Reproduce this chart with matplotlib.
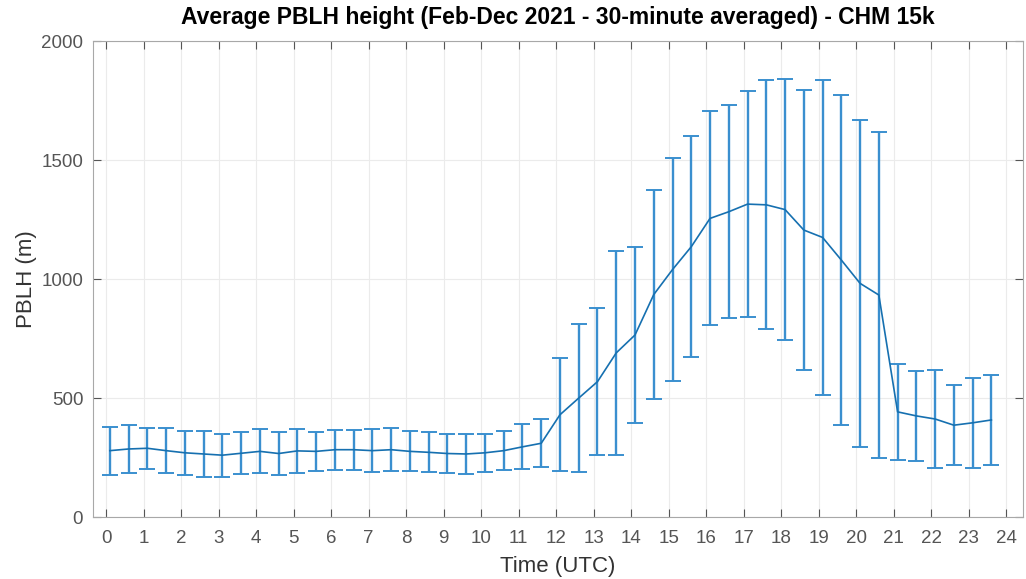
import matplotlib.pyplot as plt
import numpy as np

plt.rcParams['font.family'] = ['Liberation Sans', 'DejaVu Sans']

# half-hourly PBLH means and standard deviations (m)
pblh_mean = [279, 286, 289, 279, 270, 265, 260, 268, 276, 267,
             278, 276, 283, 283, 279, 283, 276, 272, 267, 265,
             270, 279, 295, 310, 430, 500, 569, 690, 765, 935,
             1040, 1136, 1255, 1283, 1315, 1312, 1292, 1206, 1175, 1080,
             982, 933, 442, 425, 412, 386, 396, 408]
pblh_std = [101, 99, 86, 94, 93, 95, 91, 88, 93, 91,
            94, 81, 84, 84, 90, 90, 84, 84, 84, 84,
            80, 83, 95, 100, 238, 310, 308, 428, 371, 441,
            467, 464, 450, 448, 474, 523, 549, 588, 663, 692,
            687, 686, 202, 188, 204, 168, 189, 190]

hours = np.arange(len(pblh_mean)) * 0.5 + 0.1
xticks = list(range(0, 25))
yticks = [0, 500, 1000, 1500, 2000]

fig = plt.figure(figsize=(10.26, 5.79), dpi=100)
ax = fig.add_axes([0.0906, 0.107, 0.906, 0.822])

ax.errorbar(hours, pblh_mean, yerr=pblh_std, color='#1670b0', lw=1.2,
            elinewidth=1.7, capsize=5.5, capthick=1.4, ecolor='#3a8fcf')

ax.set_xlim(-0.35, 24.43)
ax.set_ylim(0, 2000)
ax.set_xticks(xticks)
ax.set_yticks(yticks)
ax.grid(True, color='#ebebeb', lw=0.8)
ax.set_axisbelow(True)
ax.tick_params(direction='in', top=True, right=True, labelsize=13.5,
               colors='#555555', length=6)
ax.tick_params(axis='x', pad=9)
ax.tick_params(axis='y', pad=7)
for s in ax.spines.values():
    s.set_color('#a8a8a8')

ax.set_title('Average PBLH height (Feb-Dec 2021 - 30-minute averaged) - CHM 15k',
             fontsize=16.5, fontweight='bold', pad=12)
ax.set_xlabel('Time (UTC)', fontsize=16, color='#333333', labelpad=7)
ax.set_ylabel('PBLH (m)', fontsize=16, color='#333333', labelpad=3)

fig.savefig('out.png', dpi=100)
